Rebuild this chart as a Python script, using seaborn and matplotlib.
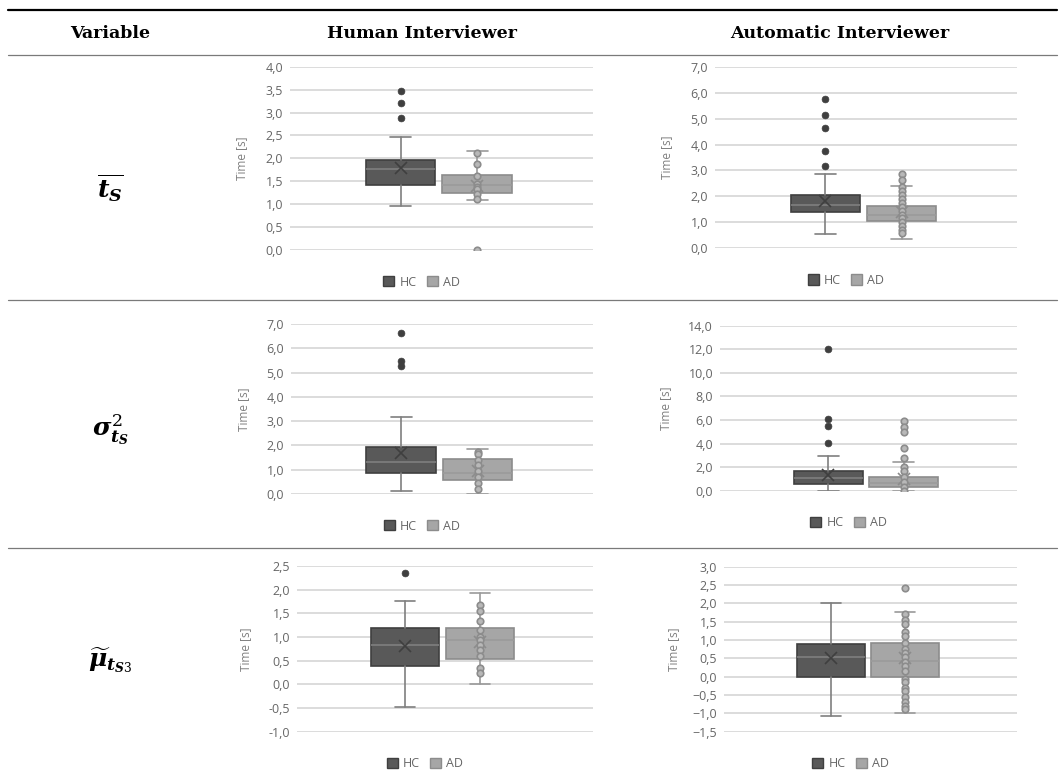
import matplotlib
matplotlib.use("Agg")
import matplotlib.pyplot as plt
from matplotlib.patches import Patch
from matplotlib.ticker import MultipleLocator, FuncFormatter
import seaborn as sns

# ── data ──────────────────────────────────────────────────────────────────────
COLUMNS = ["Variable", "Human Interviewer", "Automatic Interviewer"]
ROW_LABELS = [r"$\overline{t_S}$", r"$\sigma^2_{t_S}$", r"$\widetilde{\mu}_{t_{S3}}$"]
GROUPS = ["HC", "AD"]
# panels: row1 human, row1 auto, row2 human, row2 auto, row3 human, row3 auto
Y_LIMITS = [(0, 4), (0, 7), (0, 7), (0, 14), (-1, 2.5), (-1.5, 3)]
Y_STEPS = [0.5, 1.0, 1.0, 2.0, 0.5, 0.5]
Y_LABEL = "Time [s]"

WHISK_LO = [[0.95, 1.09], [0.56, 0.37], [0.14, 0.0], [0.0, 0.0], [-0.47, 0.0], [-1.07, -1.0]]
Q1 = [[1.42, 1.25], [1.39, 1.04], [0.85, 0.58], [0.57, 0.28], [0.38, 0.54], [0.0, 0.0]]
MEDIAN = [[1.77, 1.42], [1.67, 1.30], [1.30, 0.85], [1.10, 0.62], [0.83, 0.94], [0.54, 0.42]]
Q3 = [[1.96, 1.64], [2.04, 1.63], [1.92, 1.43], [1.70, 1.19], [1.18, 1.18], [0.89, 0.93]]
WHISK_HI = [[2.47, 2.15], [2.85, 2.40], [3.18, 1.84], [2.97, 2.46], [1.77, 1.94], [2.0, 1.76]]
MEAN = [[1.78, 1.40], [1.84, 1.41], [1.67, 0.96], [1.33, 0.99], [0.82, 0.89], [0.50, 0.50]]

OUTLIERS = [
    [[3.48, 3.20, 2.89], [0.0]],
    [[5.76, 5.12, 4.63, 3.76, 3.17], [2.88, 2.62]],
    [[6.63, 5.49, 5.27], []],
    [[12.05, 6.05, 5.49, 4.07], [5.88, 5.37, 4.98, 3.59, 2.80]],
    [[2.36], []],
    [[], [2.43]],
]
INNER_POINTS_AD = [
    [2.12, 1.87, 1.61, 1.45, 1.38, 1.33, 1.22, 1.11],
    [2.35, 2.20, 2.05, 1.90, 1.75, 1.60, 1.45, 1.30, 1.15, 1.00, 0.85, 0.70, 0.60],
    [1.74, 1.65, 1.40, 1.19, 0.96, 0.69, 0.44, 0.22],
    [2.04, 1.67, 1.19, 0.76, 0.34, 0.0],
    [1.67, 1.54, 1.33, 1.14, 1.01, 0.94, 0.84, 0.73, 0.59, 0.35, 0.25],
    [1.72, 1.55, 1.45, 1.22, 1.10, 0.93, 0.75, 0.65, 0.55, 0.40, 0.30, 0.15,
     -0.05, -0.15, -0.30, -0.40, -0.55, -0.68, -0.80, -0.88],
]
MINUS_SIGN = ["-", "-", "-", "-", "-", "\u2212"]

# ── layout / style ────────────────────────────────────────────────────────────
W, H = 1062, 781
AXES_PX = [(290, 66.7, 593, 250), (715, 66.7, 1017, 248.3),
           (291, 324, 593, 494), (720, 325.7, 1017, 490.7),
           (297, 566, 593, 731.7), (724, 566.7, 1017, 731.7)]
YLABEL_OFFSET = [42, 42, 41, 48, 45, 44]
POSITIONS = [0.365, 0.618]
FILL = ["#595959", "#a6a6a6"]
EDGE = ["#3f3f3f", "#8c8c8c"]
LINE = ["#7f7f7f", "#9a9a9a"]
TEXT_GREY = "#666666"

sns.set_theme(style="white")
plt.rcParams["font.family"] = ["Open Sans", "DejaVu Sans"]
plt.rcParams["mathtext.fontset"] = "custom"
plt.rcParams["mathtext.it"] = "DejaVu Serif:italic:bold"
plt.rcParams["mathtext.rm"] = "DejaVu Serif"
plt.rcParams["mathtext.bf"] = "DejaVu Serif:bold"


def rect(x0, y0, x1, y1):
    return [x0 / W, 1 - y1 / H, (x1 - x0) / W, (y1 - y0) / H]


def draw_panel(ax, i):
    for g in range(2):
        stats = [dict(whislo=WHISK_LO[i][g], q1=Q1[i][g], med=MEDIAN[i][g],
                      q3=Q3[i][g], whishi=WHISK_HI[i][g], mean=MEAN[i][g],
                      fliers=[])]
        ax.bxp(stats, positions=[POSITIONS[g]], widths=0.23, capwidths=0.07,
               showmeans=True, showfliers=False, patch_artist=True,
               boxprops=dict(facecolor=FILL[g], edgecolor=EDGE[g], lw=1.2),
               medianprops=dict(color=LINE[g], lw=1.2),
               whiskerprops=dict(color=LINE[g], lw=1.2),
               capprops=dict(color=LINE[g], lw=1.2),
               meanprops=dict(marker="x", markeredgecolor=EDGE[g],
                              markersize=9, markeredgewidth=1.2),
               manage_ticks=False, zorder=3)
    inner = INNER_POINTS_AD[i]
    if inner:
        sns.scatterplot(x=[POSITIONS[1]] * len(inner), y=inner, ax=ax,
                        s=22, color="#b8b8b8", edgecolor="#8c8c8c",
                        linewidth=1.2, legend=False, zorder=4)
    for g in range(2):
        pts = OUTLIERS[i][g]
        if not pts:
            continue
        if g == 0:
            sns.scatterplot(x=[POSITIONS[g]] * len(pts), y=pts, ax=ax, s=24,
                            color=EDGE[0], edgecolor=EDGE[0], linewidth=0.5,
                            legend=False, zorder=4)
        else:
            sns.scatterplot(x=[POSITIONS[g]] * len(pts), y=pts, ax=ax, s=22,
                            color="#b8b8b8", edgecolor="#8c8c8c",
                            linewidth=1.2, legend=False, zorder=4)

    lo, hi = Y_LIMITS[i]
    ax.set_xlim(0, 1)
    ax.set_ylim(lo, hi)
    ax.yaxis.set_major_locator(MultipleLocator(Y_STEPS[i]))
    m = MINUS_SIGN[i]
    ax.yaxis.set_major_formatter(FuncFormatter(
        lambda v, _p, m=m: f"{v:.1f}".replace(".", ",").replace("-", m)))
    ax.set_xticks([])
    ax.tick_params(axis="y", length=0, pad=5, labelsize=9, labelcolor=TEXT_GREY)
    for s in ax.spines.values():
        s.set_visible(False)
    ax.grid(axis="y", color="#d9d9d9", lw=1.3, zorder=0)
    ax.set_axisbelow(True)
    ax.set_ylabel(Y_LABEL, fontsize=8.5, color="#808080")
    x0, y0, x1, y1 = AXES_PX[i]
    wpx, hpx = x1 - x0, y1 - y0
    ax.yaxis.set_label_coords(-YLABEL_OFFSET[i] / wpx, 0.5)
    handles = [Patch(facecolor=FILL[g], edgecolor=EDGE[g], label=GROUPS[g])
               for g in range(2)]
    leg = ax.legend(handles=handles, loc="center", ncol=2, frameon=False,
                    bbox_to_anchor=(0.5 - 20 / wpx, -32 / hpx),
                    bbox_transform=ax.transAxes, fontsize=9,
                    handlelength=0.9, handleheight=0.9,
                    handletextpad=0.4, columnspacing=0.8)
    for t in leg.get_texts():
        t.set_color(TEXT_GREY)


fig = plt.figure(figsize=(W / 100, H / 100), dpi=100)

for i, px in enumerate(AXES_PX):
    ax = fig.add_axes(rect(*px))
    draw_panel(ax, i)

# ── table frame and text ─────────────────────────────────────────────────────
frame = fig.add_axes([0, 0, 1, 1], zorder=-1)
frame.set_xlim(0, W)
frame.set_ylim(H, 0)
frame.axis("off")
frame.plot([8, 1057], [10, 10], color="black", lw=1.6)
for y in (55, 300, 548):
    frame.plot([8, 1057], [y, y], color="#7a7a7a", lw=0.9)

header_x = [110, 422, 840]
for x, txt in zip(header_x, COLUMNS):
    frame.text(x, 33, txt, ha="center", va="center", fontsize=12.5,
               fontweight="bold", family=["DejaVu Serif"], color="black")

row_y = [188, 430, 660]
for y, txt in zip(row_y, ROW_LABELS):
    frame.text(110, y, txt, ha="center", va="center", fontsize=18,
               color="black")

fig.savefig("out.png", dpi=100)
